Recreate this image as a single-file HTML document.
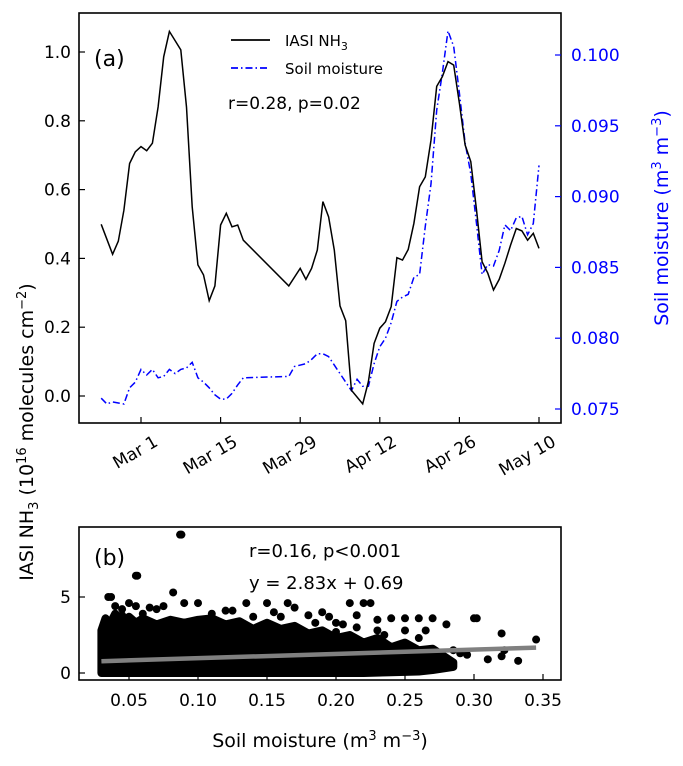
<!DOCTYPE html>
<html><head><meta charset="utf-8"><style>
html,body{margin:0;padding:0;background:#fff;}
svg text{font-family:"DejaVu Sans","Liberation Sans",sans-serif;}
</style></head><body>
<svg id="fig" width="683" height="761" viewBox="0 0 683 761" xmlns="http://www.w3.org/2000/svg">
<g id="topPanel"></g>
<g id="botPanel"></g>
<text transform="translate(33,432) rotate(-90)" text-anchor="middle" font-size="19">IASI NH<tspan font-size="13" dy="5">3</tspan><tspan dy="-5"> (10</tspan><tspan font-size="13" dy="-7">16</tspan><tspan dy="7"> molecules cm</tspan><tspan font-size="13" dy="-7">−2</tspan><tspan dy="7">)</tspan></text>
<text transform="translate(668,218) rotate(-90)" text-anchor="middle" font-size="19" fill="#0000ff">Soil moisture (m<tspan font-size="13" dy="-7">3</tspan><tspan dy="7"> m</tspan><tspan font-size="13" dy="-7">−3</tspan><tspan dy="7">)</tspan></text>
<text x="320" y="747" text-anchor="middle" font-size="19">Soil moisture (m<tspan font-size="13" dy="-7">3</tspan><tspan dy="7"> m</tspan><tspan font-size="13" dy="-7">−3</tspan><tspan dy="7">)</tspan></text>
</svg>
<script>
// ---- Panel (a) data ----
const nh3Days = [-7,-5,-4,-3,-2,-1,0,1,2,3,4,5,6,7,8,9,10,11,12,13,14,15,16,17,18,26,28,29,30,31,32,33,34,35,36,37,39,40,41,42,43,44,45,46,47,48,49,50,51,52,53,54,55,56,57,58,59,60,61,62,63,64,65,66,67,68,69,70];
const nh3Vals = [0.499,0.412,0.45,0.54,0.676,0.71,0.725,0.713,0.735,0.84,0.986,1.06,1.033,1.006,0.84,0.55,0.381,0.352,0.277,0.32,0.497,0.531,0.492,0.497,0.453,0.32,0.371,0.339,0.371,0.424,0.565,0.521,0.424,0.262,0.219,0.017,-0.023,0.042,0.153,0.197,0.216,0.26,0.402,0.395,0.426,0.502,0.608,0.637,0.744,0.9,0.928,0.972,0.962,0.851,0.73,0.681,0.541,0.39,0.357,0.308,0.339,0.386,0.439,0.487,0.48,0.453,0.473,0.429];
const smDays = [-7,-6,-5,-3,-2,-1,0,1,2,3,4,5,6,7,8,9,10,11,12,13,14,15,16,17,18,26,27,29,30,31,32,33,34,35,36,37,38,39,40,41,42,43,44,45,46,47,48,49,50,51,52,53,54,55,56,57,58,59,60,61,62,63,64,65,66,67,68,69,70];
const smVals = [0.07576,0.07535,0.0755,0.07535,0.0765,0.0769,0.0778,0.0774,0.0778,0.0772,0.0773,0.0778,0.0775,0.0778,0.0779,0.0783,0.0772,0.0769,0.0765,0.076,0.0757,0.0757,0.0761,0.0767,0.0772,0.0773,0.078,0.0782,0.0785,0.0789,0.0789,0.0787,0.0781,0.0775,0.0769,0.0763,0.0771,0.0766,0.0766,0.0782,0.0794,0.08,0.0811,0.0826,0.0829,0.0831,0.0843,0.0845,0.0879,0.0909,0.0961,0.0987,0.1017,0.1006,0.0973,0.0938,0.0916,0.0881,0.0845,0.0852,0.0851,0.0862,0.088,0.0876,0.0885,0.0886,0.0873,0.0881,0.0922];
const dateTickDays = [0,14,28,42,56,70];
const dateTickLabels = ["Mar 1","Mar 15","Mar 29","Apr 12","Apr 26","May 10"];
const leftTicks = [0.0,0.2,0.4,0.6,0.8,1.0];
const rightTicks = [0.075,0.080,0.085,0.090,0.095,0.100];
// ---- Panel (b) data ----
const regSlope = 2.83, regIntercept = 0.69;
const regRange = [0.03,0.345];
const coreTopX = [0.03,0.033,0.036,0.04,0.045,0.05,0.055,0.06,0.07,0.08,0.09,0.10,0.11,0.12,0.13,0.14,0.15,0.16,0.17,0.18,0.19,0.20,0.21,0.22,0.23,0.24,0.25,0.26,0.27,0.28,0.285];
const coreTopY = [2.8,3.6,3.2,3.9,3.4,3.7,3.3,3.6,3.2,3.5,3.3,3.5,3.6,3.2,3.4,2.9,3.3,2.9,3.1,2.6,2.8,2.3,2.5,2.0,2.3,1.7,2.0,1.5,1.6,1.0,0.7];
const coreBotX = [0.285,0.27,0.26,0.24,0.22,0.10,0.03];
const coreBotY = [0.4,0.2,0.1,0.05,0.0,0.0,0.0];
const scatterX = [0.087,0.088,0.055,0.056,0.035,0.037,0.082,0.05,0.04,0.045,0.055,0.065,0.075,0.09,0.1,0.12,0.135,0.15,0.155,0.165,0.17,0.21,0.22,0.225,0.23,0.16,0.18,0.19,0.195,0.2,0.215,0.24,0.25,0.26,0.27,0.265,0.28,0.3,0.302,0.32,0.322,0.345,0.29,0.295,0.31,0.32,0.332,0.285,0.275,0.265,0.255,0.245,0.23,0.215,0.205,0.045,0.06,0.07,0.11,0.125,0.14,0.235,0.26,0.25,0.2,0.185];
const scatterY = [9.1,9.1,6.4,6.4,5.0,5.0,5.3,4.6,4.4,4.2,4.4,4.3,4.4,4.6,4.6,4.1,4.6,4.6,4.0,4.6,4.3,4.6,4.6,4.6,3.5,3.7,3.8,4.0,3.7,3.3,3.8,3.6,3.6,3.6,3.6,2.8,3.2,3.6,3.6,2.6,1.5,2.2,1.3,1.2,0.9,1.1,0.8,1.5,1.3,1.0,0.7,0.5,2.8,3.0,3.2,3.8,3.9,4.2,3.9,4.1,3.7,2.5,2.3,2.8,2.7,3.3];
const bXTicks = [0.05,0.10,0.15,0.20,0.25,0.30,0.35];
const bYTicks = [0,5];

const NS="http://www.w3.org/2000/svg";
function mk(parent,tag,attrs){const e=document.createElementNS(NS,tag);for(const k in attrs)e.setAttribute(k,attrs[k]);parent.appendChild(e);return e;}

const A={l:79,r:561,t:13,b:423};
const xA=d=>141+d*(398/70);
const yL=v=>396-v*344;
const yR=v=>409-(v-0.075)/0.005*70.8;
const topG=document.getElementById('topPanel');
let smPath=smDays.map((d,i)=>(i?'L':'M')+xA(d).toFixed(1)+','+yR(smVals[i]).toFixed(1)).join(' ');
let el=mk(topG,'path',{d:smPath,fill:'none',stroke:'#0000ff','stroke-width':1.5,'stroke-dasharray':'7,3,1.5,3'});


let nhPath=nh3Days.map((d,i)=>(i?'L':'M')+xA(d).toFixed(1)+','+yL(nh3Vals[i]).toFixed(1)).join(' ');
el=mk(topG,'path',{d:nhPath,fill:'none',stroke:'#000','stroke-width':1.5});


el=mk(topG,'rect',{x:A.l,y:A.t,width:A.r-A.l,height:A.b-A.t,fill:'none',stroke:'#000','stroke-width':1.6});


leftTicks.forEach(v=>{const y=yL(v);
 mk(topG,'line',{x1:A.l,x2:A.l+6,y1:y,y2:y,stroke:'#000','stroke-width':1.2});
 const t=mk(topG,'text',{x:A.l-8,y:y+6,'text-anchor':'end','font-size':17});t.textContent=v.toFixed(1);
 
 });
rightTicks.forEach(v=>{const y=yR(v);
 mk(topG,'line',{x1:A.r,x2:A.r-6,y1:y,y2:y,stroke:'#0000ff','stroke-width':1.2});
 const t=mk(topG,'text',{x:A.r+10,y:y+6,'font-size':17,fill:'#0000ff'});t.textContent=v.toFixed(3);
 
 });
dateTickDays.forEach((d,i)=>{const x=xA(d);
 mk(topG,'line',{x1:x,x2:x,y1:A.b,y2:A.b-6,stroke:'#000','stroke-width':1.2});
 const t=mk(topG,'text',{x:x+18,y:A.b+22,'text-anchor':'end','font-size':17,transform:`rotate(-30 ${x+18} ${A.b+22})`});
 t.textContent=dateTickLabels[i];
 
 });
function txt(p,x,y,s,size,name,extra){const t=mk(p,'text',Object.assign({x:x,y:y,'font-size':size},extra||{}));t.innerHTML=s;return t;}
txt(topG,94,66,'(a)',22,'panel-label-a');
mk(topG,'line',{x1:231,x2:270,y1:40,y2:40,stroke:'#000','stroke-width':1.8});
txt(topG,285,46,'IASI NH<tspan font-size="11" dy="4">3</tspan>',15,'legend-entry-nh3');
mk(topG,'line',{x1:231,x2:270,y1:68,y2:68,stroke:'#0000ff','stroke-width':1.8,'stroke-dasharray':'7,3,1.5,3'});
txt(topG,285,74,'Soil moisture',15,'legend-entry-soil-moisture');
txt(topG,228,109,'r=0.28, p=0.02',17,'stats-annotation-a');

const B={l:79,r:561,t:527,b:680};
const xB=v=>129+(v-0.05)/0.05*69;
const yB=v=>673-v*15.2;
const botG=document.getElementById('botPanel');
let core=coreTopX.map((x,i)=>(i?'L':'M')+xB(x).toFixed(1)+','+yB(coreTopY[i]).toFixed(1)).join(' ')+' '+coreBotX.map((x,i)=>'L'+xB(x).toFixed(1)+','+yB(coreBotY[i]).toFixed(1)).join(' ')+'Z';
el=mk(botG,'path',{d:core,fill:'#000',stroke:'#000','stroke-width':8,'stroke-linejoin':'round'});


scatterX.forEach((x,i)=>{const c=mk(botG,'circle',{cx:xB(x),cy:yB(scatterY[i]),r:4,fill:'#000'});
 
 });
el=mk(botG,'line',{x1:xB(regRange[0]),y1:yB(regSlope*regRange[0]+regIntercept),x2:xB(regRange[1]),y2:yB(regSlope*regRange[1]+regIntercept),stroke:'#808080','stroke-width':4.5});


el=mk(botG,'rect',{x:B.l,y:B.t,width:B.r-B.l,height:B.b-B.t,fill:'none',stroke:'#000','stroke-width':1.6});


bXTicks.forEach(v=>{const x=xB(v);
 mk(botG,'line',{x1:x,x2:x,y1:B.b,y2:B.b-6,stroke:'#000','stroke-width':1.2});
 const t=mk(botG,'text',{x:x,y:B.b+26,'text-anchor':'middle','font-size':17});t.textContent=v.toFixed(2);
 
 });
bYTicks.forEach(v=>{const y=yB(v);
 mk(botG,'line',{x1:B.l,x2:B.l+6,y1:y,y2:y,stroke:'#000','stroke-width':1.2});
 const t=mk(botG,'text',{x:B.l-8,y:y+6,'text-anchor':'end','font-size':17});t.textContent=v;
 
 });
txt(botG,94,565,'(b)',22,'panel-label-b');
txt(botG,249,557,'r=0.16, p&lt;0.001',18,'stats-annotation-b');
txt(botG,249,589,'y = 2.83x + 0.69',18,'regression-equation');
</script>
</body></html>
